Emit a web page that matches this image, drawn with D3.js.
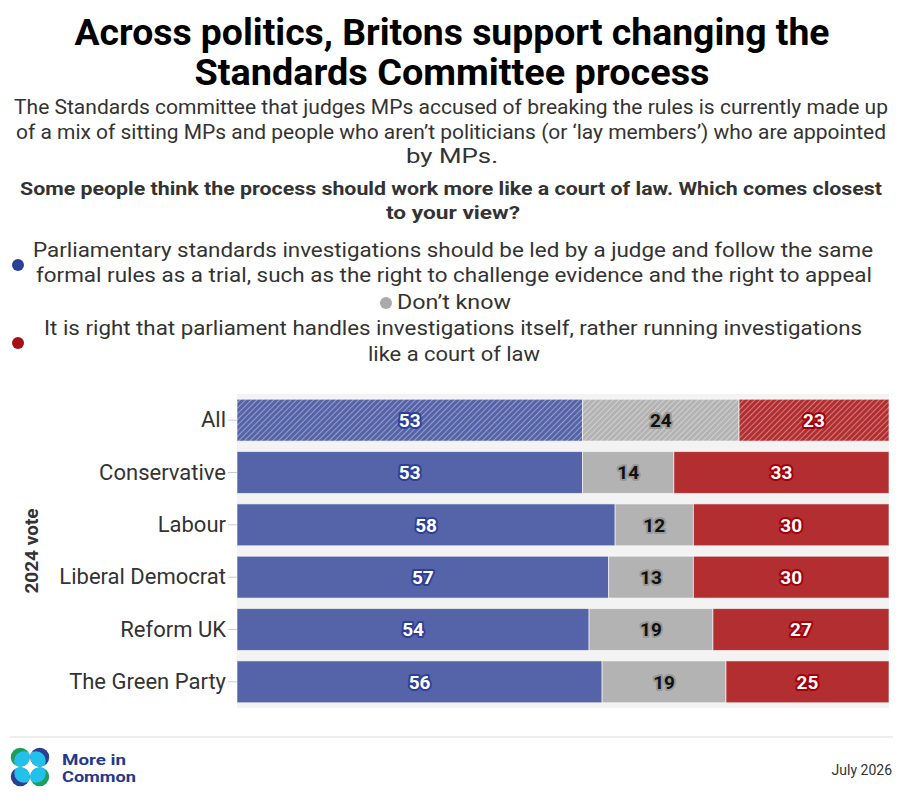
<!DOCTYPE html>
<html>
<head>
<meta charset="utf-8">
<script src="https://cdn.jsdelivr.net/npm/d3@7"></script>
<style>
  body { margin: 0; background: #fff; }
  svg { display: block; font-family: Roboto, "Noto Sans", sans-serif; }
</style>
</head>
<body>
<svg id="chart" width="904" height="802"></svg>
<script>
// survey data
var categories = ['All', 'Conservative', 'Labour', 'Liberal Democrat', 'Reform UK', 'The Green Party'];
var judge = [53, 53, 58, 57, 54, 56];
var dontKnow = [24, 14, 12, 13, 19, 19];
var parliament = [23, 33, 30, 30, 27, 25];
var seriesNames = ['judge', 'dontKnow', 'parliament'];

var svg = d3.select('#chart');

var colours = { judge: '#5563a8', dontKnow: '#b3b3b3', parliament: '#b22e30' };
var outline = { judge: '#2e3f96', dontKnow: '#999', parliament: '#a50008' };
var textCol = { judge: '#fff', dontKnow: '#111', parliament: '#fff' };

// hatch patterns for the "All" row
var defs = svg.append('defs');
seriesNames.forEach(function (k) {
  var p = defs.append('pattern').attr('id', 'hatch-' + k)
    .attr('patternUnits', 'userSpaceOnUse').attr('width', 4).attr('height', 4)
    .attr('patternTransform', 'rotate(45)');
  p.append('rect').attr('width', 4).attr('height', 4).attr('fill', colours[k]);
  p.append('line').attr('x1', 0).attr('y1', 0).attr('x2', 0).attr('y2', 4)
    .attr('stroke', '#fff').attr('stroke-opacity', 0.55).attr('stroke-width', 1.4);
});

// headings
function line(txt, x, y, size, weight, width, col) {
  svg.append('text').attr('x', x).attr('y', y).attr('text-anchor', 'middle')
    .attr('font-size', size).attr('font-weight', weight).attr('fill', col || '#333')
    .attr('textLength', width).attr('lengthAdjust', 'spacingAndGlyphs')
    .text(txt);
}
line('Across politics, Britons support changing the', 452, 45, 36, 700, 755, '#000');
line('Standards Committee process', 452, 85, 36, 700, 515, '#000');
line('The Standards committee that judges MPs accused of breaking the rules is currently made up', 451, 114, 19.5, 400, 874);
line('of a mix of sitting MPs and people who aren\u2019t politicians (or \u2018lay members\u2019) who are appointed', 451, 139, 19.5, 400, 870);
line('by MPs.', 452, 163, 19.5, 400, 92);
line('Some people think the process should work more like a court of law. Which comes closest', 451, 195, 19, 700, 862);
line('to your view?', 453, 219, 19, 700, 134);

// legend
line('Parliamentary standards investigations should be led by a judge and follow the same', 453, 257, 20, 400, 840);
line('formal rules as a trial, such as the right to challenge evidence and the right to appeal', 454, 282, 20, 400, 836);
line('Don\u2019t know', 454, 309, 20, 400, 114);
line('It is right that parliament handles investigations itself, rather running investigations', 453, 335, 20, 400, 818);
line('like a court of law', 454, 361, 20, 400, 172);
svg.append('circle').attr('cx', 18).attr('cy', 265).attr('r', 6).attr('fill', '#2e3f9a');
svg.append('circle').attr('cx', 386).attr('cy', 303).attr('r', 6).attr('fill', '#aaa');
svg.append('circle').attr('cx', 18).attr('cy', 343).attr('r', 6).attr('fill', '#a50f15');

// scales
var x = d3.scaleLinear().domain([0, 100]).range([237, 889]);
var y = d3.scaleBand().domain(categories).range([394, 708]).paddingInner(0.2).paddingOuter(0.1);

svg.append('rect').attr('x', x(0)).attr('y', 394).attr('width', x(100) - x(0)).attr('height', 314)
  .attr('fill', '#f3f3f3');

var rows = categories.map(function (c, i) {
  return { cat: c, judge: judge[i], dontKnow: dontKnow[i], parliament: parliament[i] };
});
var stacked = d3.stack().keys(seriesNames)(rows);

var layer = svg.append('g').selectAll('g').data(stacked).enter().append('g');
layer.selectAll('rect').data(function (s) { return s.map(function (d) { d.key = s.key; return d; }); })
  .enter().append('rect')
  .attr('x', function (d) { return x(d[0]); })
  .attr('y', function (d) { return y(d.data.cat); })
  .attr('width', function (d) { return x(d[1]) - x(d[0]); })
  .attr('height', y.bandwidth())
  .attr('fill', function (d) { return d.data.cat === 'All' ? 'url(#hatch-' + d.key + ')' : colours[d.key]; })
  .attr('stroke', '#fff').attr('stroke-width', 1).attr('stroke-opacity', 0.6);

layer.selectAll('text').data(function (s) { return s; })
  .enter().append('text')
  .attr('x', function (d) { return (x(d[0]) + x(d[1])) / 2; })
  .attr('y', function (d) { return y(d.data.cat) + y.bandwidth() / 2; })
  .attr('dy', '0.36em').attr('text-anchor', 'middle')
  .attr('font-size', 19).attr('font-weight', 700)
  .attr('fill', function (d) { return textCol[d.key]; })
  .attr('stroke', function (d) { return outline[d.key]; })
  .attr('stroke-width', 4).attr('stroke-linejoin', 'round')
  .style('paint-order', 'stroke')
  .text(function (d) { return d[1] - d[0]; });

// category axis
var yAxis = svg.append('g').attr('transform', 'translate(237,0)')
  .call(d3.axisLeft(y).tickSize(9).tickPadding(2));
yAxis.select('.domain').remove();
yAxis.selectAll('.tick line').attr('stroke', '#ccc');
yAxis.selectAll('.tick text').attr('font-size', 22).attr('fill', '#333')
  .attr('font-family', 'Roboto, sans-serif');

svg.append('text').attr('transform', 'translate(38,551) rotate(-90)')
  .attr('text-anchor', 'middle').attr('font-size', 19).attr('font-weight', 700).attr('fill', '#333')
  .text('2024 vote');

// footer
svg.append('line').attr('x1', 10).attr('x2', 893).attr('y1', 737).attr('y2', 737)
  .attr('stroke', '#ddd').attr('stroke-width', 1);

var logo = svg.append('g').attr('transform', 'translate(30,767)');
var blobs = [[-1, -1, '#1e9e5b'], [1, -1, '#2b3e8f'], [-1, 1, '#2b3e8f'], [1, 1, '#1e9e5b']];
blobs.forEach(function (b, i) {
  var id = 'logo-clip-' + i;
  var cx = b[0] * 9.7, cy = b[1] * 9.7;
  defs.append('clipPath').attr('id', id).append('circle').attr('cx', cx).attr('cy', cy).attr('r', 9.5);
  logo.append('circle').attr('cx', cx).attr('cy', cy).attr('r', 9.5).attr('fill', b[2]);
  logo.append('circle').attr('cx', cx - b[0] * 3.5).attr('cy', cy - b[1] * 3.5).attr('r', 9.5)
    .attr('fill', '#22c1ec').attr('clip-path', 'url(#' + id + ')');
});
svg.append('text').attr('x', 62).attr('y', 765).attr('font-size', 15).attr('font-weight', 700)
  .attr('fill', '#24388f').attr('textLength', 64).attr('lengthAdjust', 'spacingAndGlyphs').text('More in');
svg.append('text').attr('x', 62).attr('y', 782).attr('font-size', 15).attr('font-weight', 700)
  .attr('fill', '#24388f').attr('textLength', 74).attr('lengthAdjust', 'spacingAndGlyphs').text('Common');
svg.append('text').attr('x', 892).attr('y', 775).attr('text-anchor', 'end').attr('font-size', 14)
  .attr('fill', '#333').text('July 2026');
</script>
</body>
</html>
